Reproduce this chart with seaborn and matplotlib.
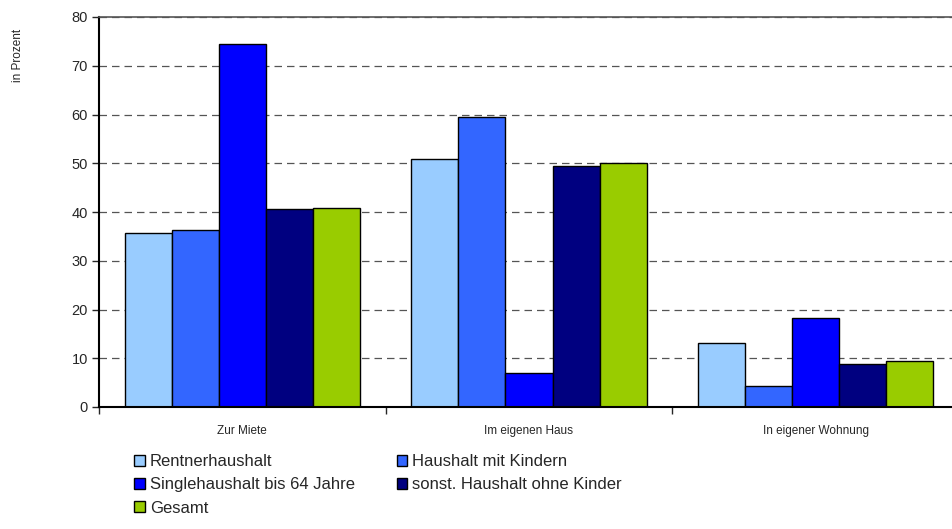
import numpy as np
import pandas as pd
import matplotlib
matplotlib.use("Agg")
import matplotlib.pyplot as plt
import seaborn as sns

categories = ["Zur Miete", "Im eigenen Haus", "In eigener Wohnung"]
series = ["Rentnerhaushalt", "Haushalt mit Kindern", "Singlehaushalt bis 64 Jahre",
          "sonst. Haushalt ohne Kinder", "Gesamt"]
rentner = [35.6, 50.9, 13.1]
kinder = [36.3, 59.5, 4.3]
single = [74.5, 7.0, 18.3]
sonst = [40.6, 49.4, 8.9]
gesamt = [40.9, 50.0, 9.5]
colors = ["#99CCFF", "#3366FF", "#0000FF", "#000080", "#99CC00"]

rows = []
for name, vals in zip(series, [rentner, kinder, single, sonst, gesamt]):
    for cat, v in zip(categories, vals):
        rows.append({"Kategorie": cat, "Haushalt": name, "Wert": v})
df = pd.DataFrame(rows)

sns.set_style("white")
plt.rcParams["font.family"] = ["Liberation Sans", "DejaVu Sans"]

fig = plt.figure(figsize=(9.52, 5.29), dpi=100)
ax = fig.add_axes([99 / 952, 122 / 529, 860 / 952, 390 / 529])

sns.barplot(data=df, x="Kategorie", y="Wert", hue="Haushalt", order=categories,
            hue_order=series, palette=colors, width=0.82, gap=0,
            edgecolor="black", linewidth=1, saturation=1, ax=ax, legend=True)

ax.set_ylim(0, 80)
ax.set_xlim(-0.5, 2.5)
ax.set_yticks(range(0, 81, 10))
ax.set_axisbelow(True)
ax.yaxis.grid(True, linestyle=(0, (6, 4)), color="#555555", linewidth=0.9)
ax.xaxis.grid(False)
ax.spines["right"].set_visible(False)
ax.spines["top"].set_color("#555555")
ax.spines["top"].set_linewidth(1.2)
ax.spines["left"].set_color("black")
ax.spines["left"].set_linewidth(1.5)
ax.spines["bottom"].set_color("black")
ax.spines["bottom"].set_linewidth(1.5)

ax.tick_params(axis="y", direction="out", length=5, width=1, labelsize=10.5, pad=3, left=True)
ax.set_xticks([0, 1, 2])
ax.set_xticklabels(categories, fontsize=8.5)
ax.set_xticks([-0.5, 0.5, 1.5], minor=True)
ax.tick_params(axis="x", which="major", length=0, pad=13)
ax.tick_params(axis="x", which="minor", direction="out", length=5, width=1, bottom=True)
ax.set_xlabel("")
ax.set_ylabel("")

fig.text(18 / 952, 1 - 55 / 529, "in Prozent", rotation=90, ha="center", va="center",
         fontsize=8.5)

handles, labels = ax.get_legend_handles_labels()
ax.get_legend().remove()
order = [0, 2, 4, 1, 3]
fig.legend([handles[i] for i in order], [labels[i] for i in order], ncol=2,
           loc="upper left", bbox_to_anchor=(134 / 952, 1 - 454 / 529),
           frameon=False, prop={"size": 12},
           handlelength=0.65, handleheight=0.65, handletextpad=0.3,
           labelspacing=0.5, columnspacing=2.5, borderpad=0, borderaxespad=0)

fig.savefig("out.png", dpi=100)
